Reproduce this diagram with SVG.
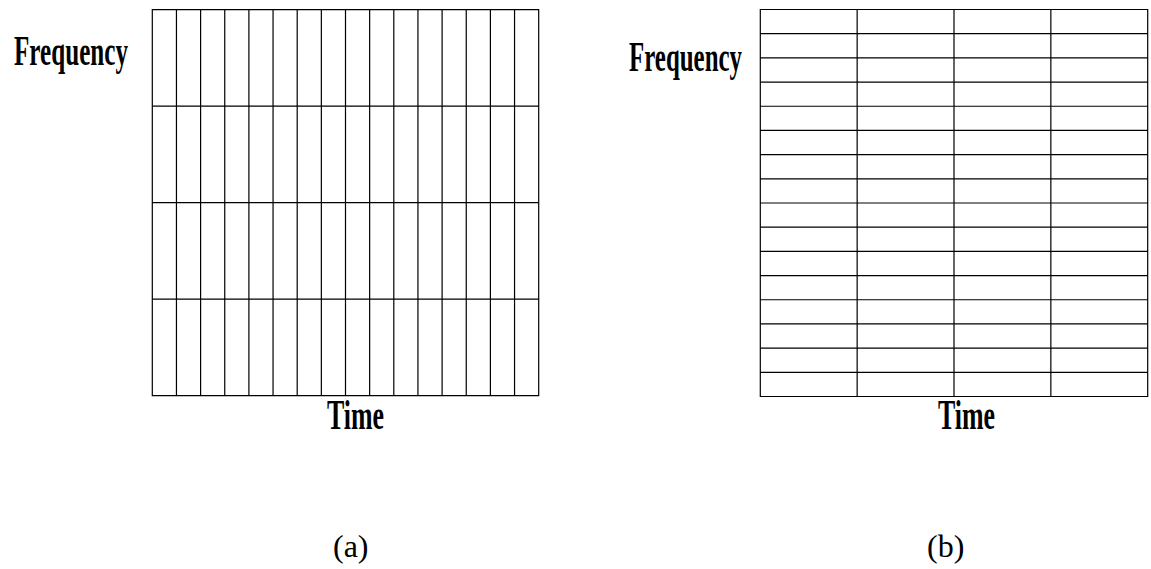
<svg xmlns="http://www.w3.org/2000/svg" width="1151" height="569" viewBox="0 0 1151 569">
<style>
.grid{fill:none;stroke:#000;stroke-width:1.2}
.lab{font-family:"Liberation Serif","Times New Roman",serif;font-weight:bold;font-size:43px;fill:#000}
.cap{font-family:"Liberation Serif","Times New Roman",serif;font-size:32px;fill:#000}
</style>
<rect width="1151" height="569" fill="#fff"/>
<g id="panel-a">
<path class="grid" d="M152.3 9.7H538.7V395.7H152.3Z M176.45 9.7V395.7 M200.6 9.7V395.7 M224.75 9.7V395.7 M248.9 9.7V395.7 M273.05 9.7V395.7 M297.2 9.7V395.7 M321.35 9.7V395.7 M345.5 9.7V395.7 M369.65 9.7V395.7 M393.8 9.7V395.7 M417.95 9.7V395.7 M442.1 9.7V395.7 M466.25 9.7V395.7 M490.4 9.7V395.7 M514.55 9.7V395.7 M152.3 106.2H538.7 M152.3 202.7H538.7 M152.3 299.2H538.7"/>
<text class="lab" x="14" y="65" textLength="114" lengthAdjust="spacingAndGlyphs">Frequency</text>
<text class="lab" x="327" y="428.5" textLength="57" lengthAdjust="spacingAndGlyphs">Time</text>
<text class="cap" x="333" y="557">(a)</text>
</g>
<g id="panel-b">
<path class="grid" d="M760.3 9.5H1147.7V396.5H760.3Z M857.15 9.5V396.5 M954 9.5V396.5 M1050.85 9.5V396.5 M760.3 33.69H1147.7 M760.3 57.88H1147.7 M760.3 82.06H1147.7 M760.3 106.25H1147.7 M760.3 130.44H1147.7 M760.3 154.63H1147.7 M760.3 178.81H1147.7 M760.3 203H1147.7 M760.3 227.19H1147.7 M760.3 251.38H1147.7 M760.3 275.56H1147.7 M760.3 299.75H1147.7 M760.3 323.94H1147.7 M760.3 348.13H1147.7 M760.3 372.31H1147.7"/>
<text class="lab" x="629" y="71" textLength="113" lengthAdjust="spacingAndGlyphs">Frequency</text>
<text class="lab" x="938" y="428.5" textLength="57" lengthAdjust="spacingAndGlyphs">Time</text>
<text class="cap" x="927" y="557">(b)</text>
</g>
</svg>
